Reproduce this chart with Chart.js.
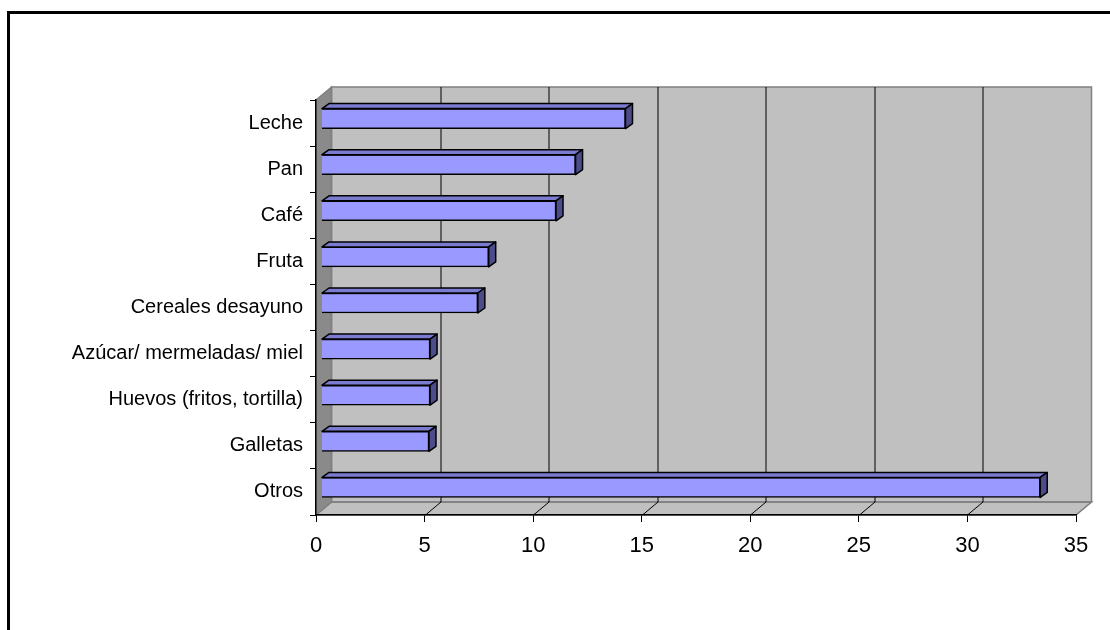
<!DOCTYPE html>
<html>
<head>
<meta charset="utf-8">
<script src="https://cdn.jsdelivr.net/npm/chart.js@4/dist/chart.umd.min.js"></script>
<style>
  html, body { margin: 0; padding: 0; background: #fff; }
  #wrap { width: 1110px; height: 630px; position: relative; }
</style>
</head>
<body>
<div id="wrap"><canvas id="desayuno" width="1110" height="630"></canvas></div>
<script>
// datos
const categorias = ['Leche', 'Pan', 'Café', 'Fruta', 'Cereales desayuno',
  'Azúcar/ mermeladas/ miel', 'Huevos (fritos, tortilla)', 'Galletas', 'Otros'];
const valores = [14.0, 11.7, 10.8, 7.7, 7.2, 5.0, 5.0, 4.95, 33.1];
const ticksX = [0, 5, 10, 15, 20, 25, 30, 35];

// profundidad 3D (paredes y barras)
const DEPTH = { dx: 15.5, dy: -13 };
const BAR_OFF = { dx: 5.5, dy: -4.5 };
const BAR_DEPTH = { dx: 7, dy: -5 };

const FONT = "'Liberation Sans', Arial, sans-serif";

// marco exterior + paredes del gráfico 3D
const walls3d = {
  id: 'walls3d',
  beforeDraw(chart) {
    const { ctx, chartArea: a, scales } = chart;
    ctx.save();
    ctx.fillStyle = '#fff';
    ctx.fillRect(0, 0, chart.width, chart.height);
    ctx.lineWidth = 3;
    ctx.strokeStyle = '#000';
    ctx.strokeRect(8.5, 12.5, 1200, 700);

    const { dx, dy } = DEPTH;
    // pared trasera
    ctx.fillStyle = '#C0C0C0';
    ctx.fillRect(a.left + dx, a.top + dy, a.right - a.left, a.bottom - a.top);
    // suelo
    ctx.beginPath();
    ctx.moveTo(a.left, a.bottom);
    ctx.lineTo(a.left + dx, a.bottom + dy);
    ctx.lineTo(a.right + dx, a.bottom + dy);
    ctx.lineTo(a.right, a.bottom);
    ctx.closePath();
    ctx.fill();
    ctx.strokeStyle = '#808080';
    ctx.lineWidth = 1.5;
    ctx.stroke();
    // pared izquierda
    ctx.beginPath();
    ctx.moveTo(a.left, a.top);
    ctx.lineTo(a.left + dx, a.top + dy);
    ctx.lineTo(a.left + dx, a.bottom + dy);
    ctx.lineTo(a.left, a.bottom);
    ctx.closePath();
    ctx.fillStyle = '#8A8A8A';
    ctx.fill();
    ctx.stroke();
    ctx.strokeRect(a.left + dx, a.top + dy, a.right - a.left, a.bottom - a.top);

    // lineas de division en pared trasera y suelo
    ctx.strokeStyle = '#000';
    ctx.lineWidth = 1;
    ticksX.forEach(v => {
      if (v === 0 || v === 35) return;
      const x = Math.round(scales.x.getPixelForValue(v)) + 0.5;
      ctx.beginPath();
      ctx.moveTo(x + dx, a.top + dy);
      ctx.lineTo(x + dx, a.bottom + dy);
      ctx.lineTo(x, a.bottom);
      ctx.stroke();
    });
    ctx.beginPath();
    ctx.moveTo(a.right + dx, a.bottom + dy);
    ctx.lineTo(a.right, a.bottom);
    ctx.strokeStyle = '#808080';
    ctx.stroke();
    ctx.restore();
  },
  beforeDatasetsDraw(chart) {
    chart.ctx.save();
    chart.ctx.translate(BAR_OFF.dx, BAR_OFF.dy);
  },
  afterDatasetsDraw(chart) {
    const ctx = chart.ctx;
    const { dx, dy } = BAR_DEPTH;
    chart.getDatasetMeta(0).data.forEach(bar => {
      const x0 = bar.base, x1 = bar.x;
      const yT = bar.y - bar.height / 2, yB = bar.y + bar.height / 2;
      ctx.lineWidth = 1.5;
      ctx.strokeStyle = '#000';
      ctx.lineJoin = 'round';
      // cara superior
      ctx.beginPath();
      ctx.moveTo(x0, yT);
      ctx.lineTo(x0 + dx, yT + dy);
      ctx.lineTo(x1 + dx, yT + dy);
      ctx.lineTo(x1, yT);
      ctx.closePath();
      ctx.fillStyle = '#7B7BD0';
      ctx.fill();
      ctx.stroke();
      // cara lateral
      ctx.beginPath();
      ctx.moveTo(x1, yT);
      ctx.lineTo(x1 + dx, yT + dy);
      ctx.lineTo(x1 + dx, yB + dy);
      ctx.lineTo(x1, yB);
      ctx.closePath();
      ctx.fillStyle = '#4C4C8A';
      ctx.fill();
      ctx.stroke();
    });
    ctx.restore();
  }
};

new Chart(document.getElementById('desayuno'), {
  type: 'bar',
  data: {
    labels: categorias,
    datasets: [{
      data: valores,
      backgroundColor: '#9999FF',
      borderColor: '#000',
      borderWidth: 1.5,
      barThickness: 20
    }]
  },
  options: {
    indexAxis: 'y',
    responsive: false,
    animation: false,
    devicePixelRatio: 1,
    layout: { padding: { left: 0, top: 100, right: 34, bottom: 0 } },
    scales: {
      x: {
        type: 'linear',
        min: 0, max: 35,
        afterFit: s => { s.height = 115; },
        afterBuildTicks: s => { s.ticks = ticksX.map(v => ({ value: v })); },
        ticks: { color: '#000', padding: 11, font: { family: FONT, size: 22 } },
        grid: { drawOnChartArea: false, color: '#000', tickLength: 7 },
        border: { display: true, color: '#000', width: 1.5 }
      },
      y: {
        afterFit: s => { s.width = 316; },
        ticks: { color: '#000', padding: 7, font: { family: FONT, size: 20 } },
        grid: { drawOnChartArea: false, offset: true, color: '#000', tickLength: 6 },
        border: { display: true, color: '#000', width: 1.5 }
      }
    },
    plugins: { legend: { display: false }, tooltip: { enabled: false } }
  },
  plugins: [walls3d]
});
</script>
</body>
</html>
